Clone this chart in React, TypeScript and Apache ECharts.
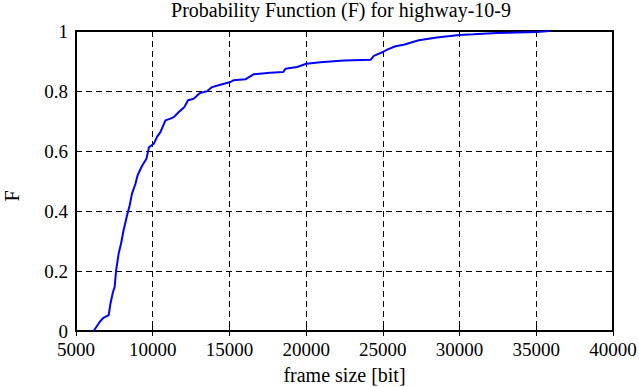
import React, { useEffect, useRef } from "react";
import * as echarts from "echarts";

const frameSize = [
  6150, 6540, 6760, 7130, 7240, 7410, 7520, 7610, 7780, 7930, 8100, 8330, 8500, 8650,
  8870, 9020, 9300, 9590, 9760, 10070, 10280, 10500, 10830, 11150, 11370, 11700, 12070,
  12300, 12670, 13070, 13540, 13870, 14410, 15070, 15280, 16040, 16590, 17670, 18500,
  18650, 19410, 20020, 20930, 22460, 24200, 24410, 25000, 25280, 25820, 26360, 26800,
  27340, 28530, 29390, 30000, 30910, 32420, 35020, 35890,
];
const probF = [
  0, 0.03, 0.043, 0.053, 0.09, 0.13, 0.147, 0.2, 0.258, 0.29, 0.336, 0.386, 0.419, 0.458,
  0.49, 0.52, 0.55, 0.574, 0.613, 0.624, 0.647, 0.663, 0.702, 0.708, 0.713, 0.73, 0.747,
  0.769, 0.774, 0.793, 0.799, 0.813, 0.821, 0.83, 0.836, 0.839, 0.856, 0.861, 0.863,
  0.874, 0.88, 0.891, 0.896, 0.902, 0.904, 0.917, 0.93, 0.938, 0.949, 0.954, 0.961,
  0.969, 0.978, 0.983, 0.987, 0.989, 0.993, 0.997, 1.0,
];

const titleText = "Probability Function (F) for highway-10-9";
const xName = "frame size [bit]";
const yName = "F";

const FONT = "Times New Roman";

export default function App() {
  const ref = useRef<HTMLDivElement>(null);
  useEffect(() => {
    if (!ref.current) return;
    const chart = echarts.init(ref.current, null, { renderer: "svg" });
    const data = frameSize.map((x, i) => [x, probF[i]]);
    const gridLine = { show: true, lineStyle: { color: "#000", type: [6, 4] as any, width: 1 } };
    chart.setOption({
      animation: false,
      backgroundColor: "#fff",
      textStyle: { fontFamily: FONT },
      title: {
        text: titleText,
        left: 341,
        textAlign: "center",
        top: 0,
        padding: 0,
        textStyle: { fontFamily: FONT, fontSize: 20, fontWeight: "normal", color: "#000" },
      },
      grid: {
        left: 76, right: 26, top: 31, bottom: 56,
        containLabel: false,
        outerBoundsMode: "none",
        show: true, borderColor: "#000", borderWidth: 2, backgroundColor: "transparent",
      },
      xAxis: [
        {
          type: "value",
          min: 5000,
          max: 40000,
          interval: 5000,
          name: xName,
          nameLocation: "middle",
          nameGap: 34,
          nameTextStyle: { fontFamily: FONT, fontSize: 20, color: "#000" },
          axisLine: { show: true, lineStyle: { color: "#000", width: 2 } },
          axisTick: { show: true, inside: true, length: 5, lineStyle: { color: "#000", width: 1 } },
          axisLabel: { fontFamily: FONT, fontSize: 19, color: "#000", margin: 9, formatter: (v: number) => String(v) },
          splitLine: gridLine,
        },
        {
          type: "value",
          position: "top",
          min: 5000,
          max: 40000,
          interval: 5000,
          axisLine: { show: false },
          axisTick: { show: true, inside: true, length: 5, lineStyle: { color: "#000", width: 1 } },
          axisLabel: { show: false },
          splitLine: { show: false },
        },
      ],
      yAxis: [
        {
          type: "value",
          min: 0,
          max: 1,
          interval: 0.2,
          name: yName,
          nameLocation: "middle",
          nameGap: 54,
          nameRotate: 90,
          nameTextStyle: { fontFamily: FONT, fontSize: 20, color: "#000", padding: [0, 30, 0, 0] },
          axisLine: { show: true, lineStyle: { color: "#000", width: 2 } },
          axisTick: { show: true, inside: true, length: 5, lineStyle: { color: "#000", width: 1 } },
          axisLabel: { fontFamily: FONT, fontSize: 19, color: "#000", margin: 8, padding: [6, 0, 0, 0], formatter: (v: number) => String(v) },
          splitLine: gridLine,
        },
        {
          type: "value",
          position: "right",
          min: 0,
          max: 1,
          interval: 0.2,
          axisLine: { show: false },
          axisTick: { show: true, inside: true, length: 5, lineStyle: { color: "#000", width: 1 } },
          axisLabel: { show: false },
          splitLine: { show: false },
        },
      ],
      series: [
        {
          type: "line",
          data,
          showSymbol: false,
          lineStyle: { color: "#0000ff", width: 2 },
          itemStyle: { color: "#0000ff" },
        },
      ],
    });
    return () => chart.dispose();
  }, []);
  return <div ref={ref} style={{ width: 639, height: 387, position: "absolute", left: 0, top: 0 }} />;
}
